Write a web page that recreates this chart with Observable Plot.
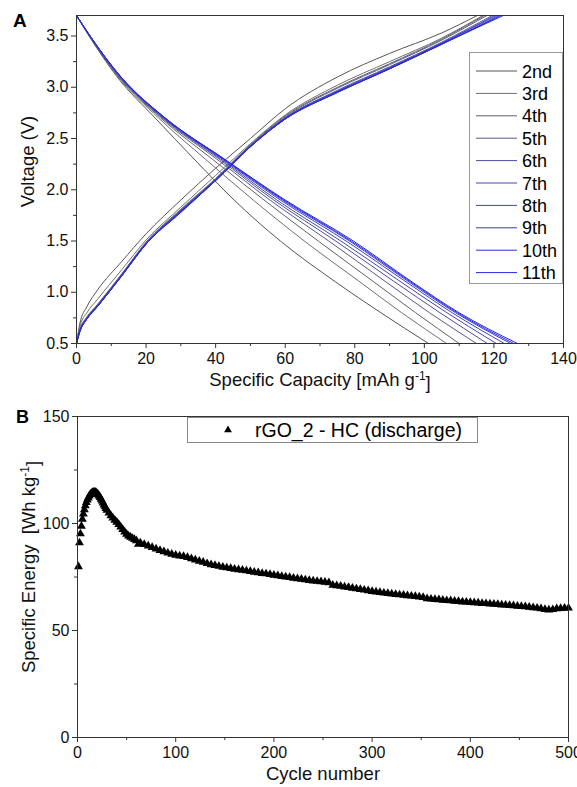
<!DOCTYPE html>
<html><head><meta charset="utf-8">
<script src="https://cdn.jsdelivr.net/npm/d3@7"></script>
<script src="https://cdn.jsdelivr.net/npm/@observablehq/plot@0.6"></script>
<style>
body{margin:0;background:#fff;}
#wrap{position:relative;width:577px;height:787px;overflow:hidden;background:#fff;}
#wrap svg{position:absolute;left:0;}
</style></head><body><div id="wrap"></div>
<script>
const FONT = 'Arial, "Liberation Sans", sans-serif';

// ---------- Panel A data ----------
const cycleLabels = ["2nd","3rd","4th","5th","6th","7th","8th","9th","10th","11th"];
const cycleColors = ["#555555","#707070","#60606e","#585888","#4e4e9e","#4646b2","#3e3ec4","#3636d2","#2e2ede","#2626e4"];
// discharge: capacity (mAh/g) reached at each voltage
const dischargeVoltages = [3.7,3.5,3.1,2.7,2.3,1.9,1.5,1.1,0.8,0.5];
const dischargeCapacity = [
  [0,3.6,11.7,22.6,33.8,45.3,58.6,74.5,87.5,101.2],
  [0,3.7,12.0,23.6,37.0,50.8,65.5,81.5,93.5,106.4],
  [0,3.7,12.2,24.2,39.0,53.9,69.5,85.5,97.5,110.0],
  [0,3.8,12.4,24.6,40.3,55.6,72.5,89.0,101.5,115.0],
  [0,3.8,12.5,24.9,41.0,56.7,74.5,91.5,104.5,118.1],
  [0,3.8,12.6,25.1,41.5,57.6,76.0,93.3,106.5,120.7],
  [0,3.9,12.7,25.3,41.9,58.6,77.5,94.8,108.0,123.0],
  [0,3.9,12.7,25.4,42.2,59.2,78.5,95.6,109.0,124.8],
  [0,3.9,12.8,25.5,42.4,59.6,79.0,96.1,109.5,125.7],
  [0,3.9,12.8,25.5,42.5,60.0,79.6,96.5,110.0,126.8]
];
// charge: voltage at each capacity, then end capacity at 3.7 V
const chargeCapacities = [0,1,3,6,13,20,30,40,50,60,75,90,105];
const chargeVoltage = [
  [0.5,0.70,0.86,1.02,1.30,1.57,1.90,2.21,2.50,2.79,3.10,3.33,3.53],
  [0.5,0.67,0.80,0.93,1.22,1.51,1.83,2.14,2.45,2.73,3.02,3.25,3.48],
  [0.5,0.64,0.76,0.88,1.18,1.49,1.81,2.11,2.44,2.72,3.00,3.23,3.47],
  [0.5,0.63,0.75,0.87,1.17,1.48,1.80,2.10,2.43,2.71,2.99,3.22,3.46],
  [0.5,0.63,0.75,0.87,1.17,1.48,1.80,2.10,2.43,2.70,2.97,3.20,3.44],
  [0.5,0.63,0.75,0.87,1.17,1.48,1.79,2.10,2.43,2.70,2.96,3.19,3.43],
  [0.5,0.62,0.74,0.86,1.16,1.47,1.79,2.09,2.42,2.70,2.96,3.19,3.43],
  [0.5,0.62,0.74,0.86,1.16,1.47,1.79,2.09,2.42,2.69,2.95,3.18,3.42],
  [0.5,0.62,0.74,0.86,1.16,1.47,1.78,2.09,2.42,2.69,2.95,3.18,3.42],
  [0.5,0.62,0.74,0.86,1.16,1.47,1.78,2.09,2.42,2.69,2.95,3.18,3.42]
];
const chargeEndCapacity = [115.2,116.8,117.3,118.0,119.5,120.2,120.8,121.5,122.0,122.7];
const chargeEndVoltage = 3.7;
const xTicksA = [0,20,40,60,80,100,120,140];
const xMinorA = [10,30,50,70,90,110,130];
const yTicksA = [0.5,1.0,1.5,2.0,2.5,3.0,3.5];
const yMinorA = [0.75,1.25,1.75,2.25,2.75,3.25];

// ---------- Panel B data ----------
const cycleNumber = [1,2,3,4,5,6,7,8,9,10,11,12,13,14,15,16,17,18,19,20,21,22,23,24,25,26,27,28,29,30,
 32,34,36,38,40,42,44,46,48,50,52,54,56,58,60,62,
 64,68,72,76,80,84,88,92,96,100,104,108,112,116,120,124,128,132,136,140,
 144,148,152,156,160,164,168,172,176,180,184,188,192,196,200,204,208,212,216,220,
 224,228,232,236,240,244,248,252,256,260,264,268,272,276,280,284,288,292,296,300,
 304,308,312,316,320,324,328,332,336,340,344,348,352,356,360,364,368,372,376,380,
 384,388,392,396,400,404,408,412,416,420,424,428,432,436,440,444,448,452,456,460,
 464,468,472,476,480,484,488,492,496,500];
const specificEnergy = [79.8,91.0,95.2,98.8,102.0,104.5,106.5,108.3,109.8,111.0,112.0,112.9,113.6,114.1,114.4,114.6,114.7,114.6,114.4,114.0,113.5,112.9,112.2,111.4,110.5,109.6,108.7,107.8,107.0,106.2,
 104.9,103.7,102.6,101.6,100.6,99.6,98.4,97.2,96.1,95.0,94.2,93.6,93.1,92.6,92.0,90.3,
 91.0,90.2,89.5,88.8,88.1,87.4,86.8,86.2,85.7,85.2,84.9,84.6,84.2,83.6,83.0,82.4,81.9,81.3,80.8,80.4,
 80.0,79.6,79.3,79.0,78.7,78.4,78.2,77.9,77.6,77.3,77.0,76.7,76.5,76.2,75.9,75.6,75.3,75.0,74.8,74.5,
 74.2,74.0,73.7,73.4,73.2,73.0,72.8,72.6,72.4,71.2,71.0,70.7,70.4,70.1,69.8,69.5,69.2,68.9,68.6,68.3,
 68.0,67.8,67.5,67.3,67.1,66.9,66.7,66.5,66.3,66.1,65.9,65.7,65.5,64.9,64.7,64.5,64.4,64.2,64.0,63.9,
 63.7,63.6,63.4,63.3,63.1,63.0,62.9,62.7,62.6,62.4,62.3,62.2,62.0,61.9,61.7,61.6,61.4,61.3,61.1,60.9,
 60.7,60.5,60.2,59.9,59.6,59.8,60.2,60.3,60.4,60.5];
const xTicksB = [0,100,200,300,400,500];
const xMinorB = [50,150,250,350,450];
const yTicksB = [0,50,100,150];
const yMinorB = [25,75,125];
const legendB = "rGO_2 - HC (discharge)";

// ---------- build rows ----------
const rowsA = [];
cycleLabels.forEach((name,i)=>{
  dischargeVoltages.forEach((v,j)=>rowsA.push({cycle:name,key:name+"-d",c:dischargeCapacity[i][j],v}));
  chargeCapacities.forEach((c,j)=>rowsA.push({cycle:name,key:name+"-c",c,v:chargeVoltage[i][j]}));
  rowsA.push({cycle:name,key:name+"-c",c:chargeEndCapacity[i],v:chargeEndVoltage});
});
const rowsB = cycleNumber.map((c,i)=>({c,e:specificEnergy[i]}));

const wrap = document.getElementById("wrap");
const baseStyle = {fontFamily:FONT,fontSize:"16px",color:"#111",background:"#fff",overflow:"visible"};
const TICK = 16, TITLE = 18.5;

// ---------- Panel A ----------
const A = Plot.plot({
  width:577,height:395,marginTop:15,marginBottom:52,marginLeft:76,marginRight:14,
  style:baseStyle,
  x:{domain:[0,140]},
  y:{domain:[0.5,3.7]},
  color:{domain:cycleLabels,range:cycleColors},
  marks:[
    Plot.line(rowsA,{x:"c",y:"v",z:"key",stroke:"cycle",strokeWidth:1,curve:"monotone-x"}),
    Plot.frame({stroke:"#333",strokeWidth:1}),
    Plot.axisX({ticks:xTicksA,tickSize:5,tickPadding:4,label:null,stroke:"#333",fontSize:TICK}),
    Plot.axisX({ticks:xMinorA,tickSize:3,tickFormat:()=>"",label:null,stroke:"#333"}),
    Plot.axisY({ticks:yTicksA,tickSize:5,tickPadding:3,label:null,stroke:"#333",fontSize:TICK,tickFormat:d=>d.toFixed(1)}),
    Plot.axisY({ticks:yMinorA,tickSize:3,tickFormat:()=>"",label:null,stroke:"#333"}),
    Plot.text(["Voltage (V)"],{frameAnchor:"left",dx:-48,dy:-18,rotate:-90,textAnchor:"middle",fontSize:TITLE,fill:"#111"}),
    Plot.text(["Specific Capacity [mAh g-1]"],{frameAnchor:"bottom",dy:42,textAnchor:"middle",fontSize:TITLE,fill:"#111"})
  ]
});
A.style.top = "0px";
wrap.appendChild(A);

// ---------- Panel B ----------
const B = Plot.plot({
  width:577,height:392,marginTop:21,marginBottom:50,marginLeft:77,marginRight:9,
  style:baseStyle,
  x:{domain:[0,500]},
  y:{domain:[0,150]},
  marks:[
    Plot.dot(rowsB,{x:"c",y:"e",symbol:"triangle",r:3.3,fill:"#000",stroke:"none"}),
    Plot.frame({stroke:"#333",strokeWidth:1}),
    Plot.axisX({ticks:xTicksB,tickSize:5,tickPadding:4,label:null,stroke:"#333",fontSize:TICK}),
    Plot.axisX({ticks:xMinorB,tickSize:3,tickFormat:()=>"",label:null,stroke:"#333"}),
    Plot.axisY({ticks:yTicksB,tickSize:5,tickPadding:3,label:null,stroke:"#333",fontSize:TICK}),
    Plot.axisY({ticks:yMinorB,tickSize:3,tickFormat:()=>"",label:null,stroke:"#333"}),
    Plot.text(["Specific Energy  [Wh kg-1]"],{frameAnchor:"left",dx:-48,dy:-10,rotate:-90,textAnchor:"middle",fontSize:TITLE,fill:"#111"}),
    Plot.text(["Cycle number"],{frameAnchor:"bottom",dy:42,textAnchor:"middle",fontSize:TITLE,fill:"#111"})
  ]
});
B.style.top = "395px";
wrap.appendChild(B);

// enforce tick-label size
[A,B].forEach(svg=>{
  d3.select(svg).selectAll("[aria-label$='tick label']").style("font-size",TICK+"px").attr("font-size",TICK);
});

// superscripts for "-1"
[A,B].forEach(svg=>{
  d3.select(svg).selectAll("text").each(function(){
    const t = this.textContent;
    if (t.endsWith("g-1]")) {
      const base = t.slice(0,-3);
      const el = d3.select(this);
      el.text(null);
      el.append("tspan").text(base);
      el.append("tspan").attr("font-size","12px").attr("dy","-0.5em").text("-1");
      el.append("tspan").attr("dy","0.5em").text("]");
    }
  });
});

// panel letters
d3.select(A).append("text").attr("x",13).attr("y",27).attr("text-anchor","start").attr("font-family",FONT).attr("font-weight","bold").attr("font-size",19).attr("fill","#000").text("A");
d3.select(B).append("text").attr("x",16).attr("y",28).attr("text-anchor","start").attr("font-family",FONT).attr("font-weight","bold").attr("font-size",18).attr("fill","#000").text("B");

// legend A
const gA = d3.select(A).append("g").attr("font-family",FONT).attr("font-size",18).attr("text-anchor","start");
gA.append("rect").attr("x",469.5).attr("y",52.5).attr("width",93).attr("height",231).attr("fill","#fff").attr("stroke","#999");
cycleLabels.forEach((name,i)=>{
  const y = 71 + i*22.4;
  gA.append("line").attr("x1",476).attr("x2",517).attr("y1",y).attr("y2",y).attr("stroke",cycleColors[i]).attr("stroke-width",1);
  gA.append("text").attr("x",522).attr("y",y+6.5).attr("fill","#000").text(name);
});

// legend B
const gB = d3.select(B).append("g").attr("font-family",FONT).attr("font-size",19.5).attr("text-anchor","start");
gB.append("rect").attr("x",187.5).attr("y",22.5).attr("width",290).attr("height",25).attr("fill","#fff").attr("stroke","#888");
gB.append("path").attr("transform","translate(228,35)").attr("d",d3.symbol(d3.symbolTriangle, 2.9*2.9*Math.PI)()).attr("fill","#000");
gB.append("text").attr("x",255).attr("y",42).attr("fill","#000").text(legendB);
</script></body></html>
